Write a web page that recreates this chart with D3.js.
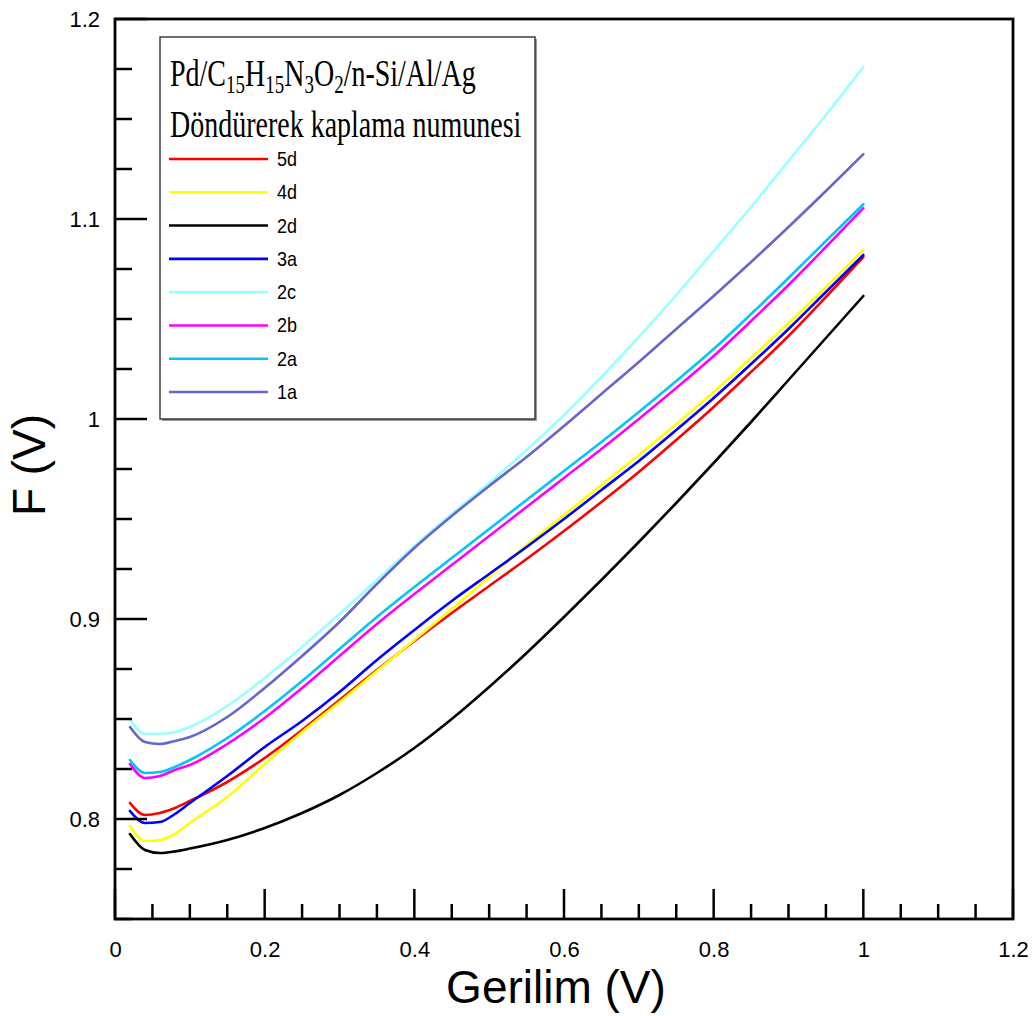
<!DOCTYPE html>
<html>
<head>
<meta charset="utf-8">
<script src="https://cdn.jsdelivr.net/npm/d3@7"></script>
<style>
  html, body { margin: 0; padding: 0; background: #fff; }
  svg { display: block; }
</style>
</head>
<body>
<svg id="chart" width="1035" height="1016"></svg>
<script>
// ---------------- DATA ----------------
const voltage = [0.02, 0.04, 0.06, 0.08, 0.10, 0.15, 0.20, 0.25, 0.30, 0.35, 0.40, 0.45, 0.50, 0.55, 0.60, 0.65, 0.70, 0.75, 0.80, 0.85, 0.90, 0.95, 1.00];

const f5d = [0.808, 0.802, 0.803, 0.8055, 0.809, 0.8185, 0.8305, 0.8445, 0.8595, 0.8745, 0.889, 0.903, 0.9165, 0.930, 0.944, 0.9585, 0.9735, 0.9895, 1.006, 1.0235, 1.0415, 1.061, 1.081];
const f4d = [0.7965, 0.789, 0.7895, 0.7925, 0.798, 0.811, 0.8275, 0.8435, 0.8585, 0.874, 0.8895, 0.905, 0.921, 0.937, 0.952, 0.967, 0.982, 0.9975, 1.0135, 1.0305, 1.048, 1.066, 1.0845];
const f2d = [0.7925, 0.7845, 0.783, 0.7838, 0.7852, 0.7895, 0.7955, 0.803, 0.812, 0.823, 0.8355, 0.850, 0.866, 0.883, 0.901, 0.9195, 0.9385, 0.958, 0.978, 0.9985, 1.0195, 1.0405, 1.0615];
const f3a = [0.804, 0.798, 0.7985, 0.8025, 0.808, 0.8215, 0.836, 0.849, 0.8635, 0.8795, 0.8945, 0.909, 0.9225, 0.936, 0.950, 0.9645, 0.979, 0.9945, 1.0105, 1.0275, 1.045, 1.0635, 1.082];
const f2c = [0.850, 0.8425, 0.8425, 0.8435, 0.846, 0.8565, 0.8705, 0.886, 0.9025, 0.9195, 0.9365, 0.9525, 0.968, 0.9845, 1.002, 1.021, 1.041, 1.062, 1.084, 1.106, 1.129, 1.152, 1.176];
const f2b = [0.8275, 0.8205, 0.8215, 0.8245, 0.827, 0.8375, 0.8505, 0.8655, 0.8815, 0.8975, 0.9125, 0.927, 0.9415, 0.956, 0.9705, 0.985, 1.000, 1.0155, 1.0315, 1.049, 1.067, 1.086, 1.1054];
const f2a = [0.8295, 0.823, 0.8235, 0.826, 0.8295, 0.8405, 0.854, 0.869, 0.885, 0.901, 0.916, 0.9305, 0.945, 0.9595, 0.974, 0.9885, 1.0035, 1.019, 1.035, 1.0525, 1.0705, 1.089, 1.1074];
const f1a = [0.846, 0.8385, 0.8375, 0.839, 0.841, 0.851, 0.8655, 0.8815, 0.8985, 0.9175, 0.9355, 0.9515, 0.9665, 0.981, 0.9965, 1.0125, 1.0285, 1.045, 1.0615, 1.0785, 1.096, 1.114, 1.1324];

const seriesNames = ["5d", "4d", "2d", "3a", "2c", "2b", "2a", "1a"];
const seriesValues = [f5d, f4d, f2d, f3a, f2c, f2b, f2a, f1a];
const seriesColors = ["#FF0000", "#FFFF00", "#000000", "#0000FF", "#99FFFF", "#FF00FF", "#00C8F0", "#6666CC"];

const xTickLabels = [0, 0.2, 0.4, 0.6, 0.8, 1, 1.2];
const yTickLabels = [0.8, 0.9, 1, 1.1, 1.2];
const xMinorTicks = d3.range(0, 1.2001, 0.05);
const yMinorTicks = d3.range(0.75, 1.2001, 0.025);

// ---------------- LAYOUT ----------------
const svg = d3.select("#chart");
const pLeft = 115, pRight = 1013, pTop = 19, pBottom = 919;

const x = d3.scaleLinear().domain([0, 1.2]).range([pLeft, pRight]);
const y = d3.scaleLinear().domain([0.75, 1.2]).range([pBottom, pTop]);

const sans = "'Liberation Sans', Arial, sans-serif";
const serif = "'Liberation Serif', 'Times New Roman', serif";

// lines
const line = d3.line()
  .x((d, i) => x(voltage[i]))
  .y(d => y(d))
  .curve(d3.curveMonotoneX);

const plot = svg.append("g");
seriesValues.forEach((vals, k) => {
  plot.append("path")
    .attr("d", line(vals))
    .attr("fill", "none")
    .attr("stroke", seriesColors[k])
    .attr("stroke-width", 2.6)
    .attr("stroke-linejoin", "round")
    .attr("stroke-linecap", "round");
});

// ticks (inward)
const isMajor = (v, step) => Math.abs(v / step - Math.round(v / step)) < 1e-6;
svg.append("g").selectAll("line")
  .data(yMinorTicks)
  .join("line")
  .attr("x1", x(0))
  .attr("x2", d => x(0) + (isMajor(d, 0.1) ? 32 : 17))
  .attr("y1", d => y(d))
  .attr("y2", d => y(d))
  .attr("stroke", "#000")
  .attr("stroke-width", 2.5);

svg.append("g").selectAll("line")
  .data(xMinorTicks)
  .join("line")
  .attr("x1", d => x(d))
  .attr("x2", d => x(d))
  .attr("y1", y(0.75))
  .attr("y2", d => y(0.75) - (isMajor(d, 0.2) ? 30 : 15))
  .attr("stroke", "#000")
  .attr("stroke-width", 2.5);

// frame
svg.append("rect")
  .attr("x", x(0)).attr("y", y(1.2))
  .attr("width", x(1.2) - x(0))
  .attr("height", y(0.75) - y(1.2))
  .attr("fill", "none")
  .attr("stroke", "#000")
  .attr("stroke-width", 2.8);

// axis labels via d3 axes
const yAxis = d3.axisLeft(y).tickValues(yTickLabels).tickSize(0).tickPadding(15)
  .tickFormat(d3.format("~g"));
const gy = svg.append("g").attr("transform", `translate(${x(0)},0)`).call(yAxis);
gy.select(".domain").remove();
gy.selectAll("text").attr("font-family", sans).attr("font-size", 22).attr("fill", "#000");

const xAxis = d3.axisBottom(x).tickValues(xTickLabels).tickSize(0).tickPadding(22)
  .tickFormat(d3.format("~g"));
const gx = svg.append("g").attr("transform", `translate(0,${y(0.75)})`).call(xAxis);
gx.select(".domain").remove();
gx.selectAll("text").attr("font-family", sans).attr("font-size", 22).attr("fill", "#000");

// axis titles
svg.append("text")
  .attr("x", 556)
  .attr("y", 1003)
  .attr("text-anchor", "middle")
  .attr("font-family", sans)
  .attr("font-size", 46)
  .text("Gerilim (V)");

svg.append("text")
  .attr("transform", `translate(45,465) rotate(-90)`)
  .attr("text-anchor", "middle")
  .attr("font-family", sans)
  .attr("font-size", 46)
  .text("F (V)");

// legend
const lg = svg.append("g");
lg.append("rect")
  .attr("x", 162).attr("y", 39).attr("width", 375).attr("height", 382)
  .attr("fill", "#999");
lg.append("rect")
  .attr("x", 160).attr("y", 37).attr("width", 375).attr("height", 382)
  .attr("fill", "#fff").attr("stroke", "#222").attr("stroke-width", 1.3);

const t1 = lg.append("text")
  .attr("transform", "translate(170,86) scale(1,1.35)")
  .attr("font-family", serif).attr("font-size", 28).attr("fill", "#000");
const parts = [["Pd/C", false], ["15", true], ["H", false], ["15", true], ["N", false], ["3", true], ["O", false], ["2", true], ["/n-Si/Al/Ag", false]];
parts.forEach(([txt, sub]) => {
  t1.append("tspan")
    .attr("font-size", sub ? 19 : 28)
    .attr("baseline-shift", sub ? "-5" : "0")
    .text(txt);
});

lg.append("text")
  .attr("transform", "translate(170,137) scale(1,1.35)")
  .attr("font-family", serif).attr("font-size", 28).attr("fill", "#000")
  .text("Döndürerek kaplama numunesi");

const entryY = d3.scaleLinear().domain([0, 7]).range([159, 392]);
seriesNames.forEach((name, k) => {
  const yy = entryY(k);
  lg.append("line")
    .attr("x1", 169).attr("x2", 268)
    .attr("y1", yy).attr("y2", yy)
    .attr("stroke", seriesColors[k]).attr("stroke-width", 2.6);
  lg.append("text")
    .attr("transform", `translate(277,${yy + 7}) scale(1,1.15)`)
    .attr("font-family", sans).attr("font-size", 18)
    .text(name);
});
</script>
</body>
</html>
